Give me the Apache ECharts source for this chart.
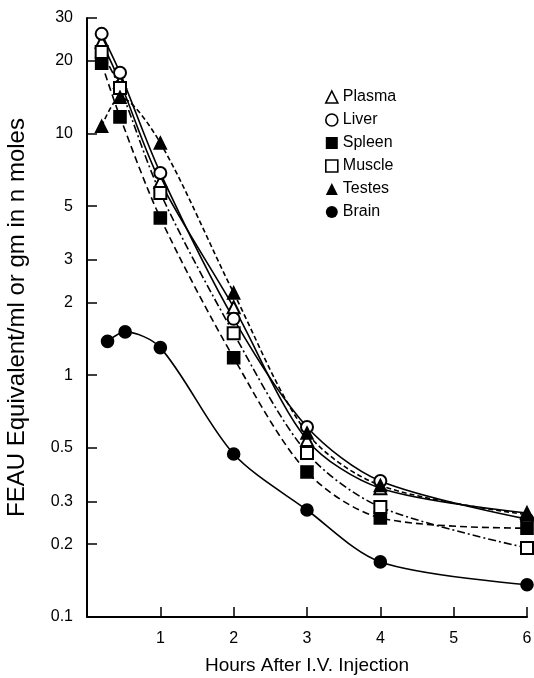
<!DOCTYPE html>
<html>
<head>
<meta charset="utf-8">
<script src="https://cdn.jsdelivr.net/npm/echarts@6/dist/echarts.min.js"></script>
<style>
  html, body { margin: 0; padding: 0; background: #fff; }
  #chart { width: 534px; height: 678px; }
</style>
</head>
<body>
<div id="chart"></div>
<script>
// hours after injection (brain was sampled a bit later at the first two points)
const hours = [0.2, 0.45, 1, 2, 3, 4, 6]
const brainHours = [0.28, 0.52, 1, 2, 3, 4, 6]

// FEAU equivalent, n moles per ml or gm
const plasma = [23.9, 16.3, 6.3, 1.91, 0.54, 0.341, 0.269]
const liver = [25.8, 17.8, 6.86, 1.71, 0.611, 0.365, 0.254]
const spleen = [19.5, 11.7, 4.47, 1.18, 0.398, 0.257, 0.233]
const muscle = [21.7, 15.4, 5.67, 1.49, 0.477, 0.285, 0.193]
const testes = [10.7, 14.1, 9.13, 2.19, 0.577, 0.35, 0.265]
const brain = [1.38, 1.51, 1.30, 0.472, 0.277, 0.169, 0.136]

const yTicks = [0.1, 0.2, 0.3, 0.5, 1, 2, 3, 5, 10, 20, 30]
const xTicks = [1, 2, 3, 4, 5, 6]

const font = 'Liberation Sans, Arial, Helvetica, sans-serif'

function pairs (xs, ys) {
  return xs.map(function (x, i) { return [x, ys[i]] })
}

function makeSeries (name, xs, ys, symbol, dash) {
  return {
    name: name,
    type: 'line',
    data: pairs(xs, ys),
    smooth: 0.3,
    symbol: symbol,
    symbolSize: 12,
    showAllSymbol: true,
    clip: false,
    lineStyle: { color: '#000', width: 1.6, type: dash },
    itemStyle: { color: '#000', borderColor: '#000', borderWidth: 1.6 },
    emphasis: { disabled: true },
    animation: false
  }
}

const chart = echarts.init(document.getElementById('chart'))

const openItem = { color: '#fff', borderColor: '#000', borderWidth: 1.6 }
const solidItem = { color: '#000', borderWidth: 0 }

const option = {
  backgroundColor: '#fff',
  grid: { left: 87, right: 7, top: 18, bottom: 61, containLabel: false, outerBoundsMode: 'none' },
  legend: {
    orient: 'vertical',
    left: 320,
    top: 83,
    itemWidth: 12,
    itemHeight: 12,
    itemGap: 5,
    textStyle: { fontFamily: font, fontSize: 16, color: '#000', lineHeight: 18 },
    data: [
      { name: 'Plasma', icon: 'triangle', itemStyle: openItem },
      { name: 'Liver', icon: 'circle', itemStyle: openItem },
      { name: 'Spleen', icon: 'rect', itemStyle: solidItem },
      { name: 'Muscle', icon: 'rect', itemStyle: openItem },
      { name: 'Testes', icon: 'triangle', itemStyle: solidItem },
      { name: 'Brain', icon: 'circle', itemStyle: solidItem }
    ]
  },
  xAxis: {
    type: 'value',
    min: 0,
    max: 6,
    interval: 1,
    name: 'Hours After I.V. Injection',
    nameLocation: 'middle',
    nameGap: 39,
    nameTextStyle: { fontFamily: font, fontSize: 19, color: '#000' },
    axisLine: { lineStyle: { color: '#000', width: 2 } },
    axisTick: { inside: true, length: 10, lineStyle: { color: '#000', width: 1.5 }, customValues: xTicks },
    axisLabel: { fontFamily: font, fontSize: 16, color: '#000', margin: 14, customValues: xTicks },
    splitLine: { show: false }
  },
  yAxis: {
    type: 'log',
    logBase: 10,
    min: 0.1,
    max: 30,
    name: 'FEAU Equivalent/ml or gm in n moles',
    nameLocation: 'middle',
    nameGap: 58,
    nameTextStyle: { fontFamily: font, fontSize: 24, color: '#000' },
    axisLine: { show: true, lineStyle: { color: '#000', width: 2 } },
    axisTick: { inside: true, length: 10, lineStyle: { color: '#000', width: 1.5 }, customValues: yTicks },
    axisLabel: {
      fontFamily: font,
      fontSize: 16,
      color: '#000',
      margin: 14,
      customValues: yTicks,
      formatter: function (v) { return String(Math.round(v * 10) / 10) }
    },
    splitLine: { show: false }
  },
  series: [
    makeSeries('Plasma', hours, plasma, 'emptyTriangle', 'solid'),
    makeSeries('Liver', hours, liver, 'emptyCircle', 'solid'),
    makeSeries('Spleen', hours, spleen, 'rect', [7, 4]),
    makeSeries('Muscle', hours, muscle, 'emptyRect', [8, 3, 2, 3]),
    makeSeries('Testes', hours, testes, 'triangle', [5, 3]),
    makeSeries('Brain', brainHours, brain, 'circle', 'solid')
  ]
}

chart.setOption(option)
</script>
</body>
</html>
